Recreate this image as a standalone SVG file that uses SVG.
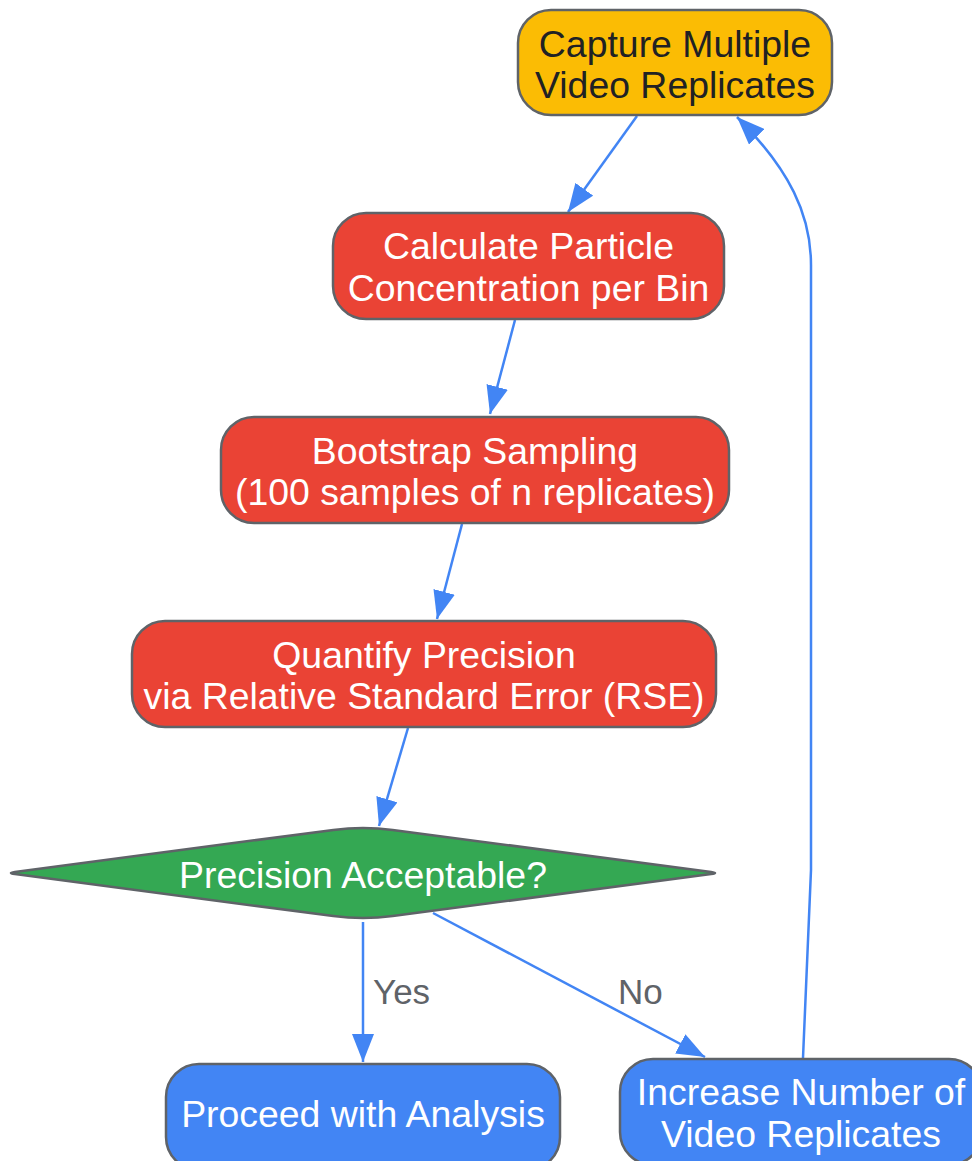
<svg xmlns="http://www.w3.org/2000/svg" width="972" height="1161" viewBox="0 0 972 1161">
  <defs>
    <marker id="arrow" viewBox="0 0 28 22" refX="28" refY="11" markerWidth="28" markerHeight="22" markerUnits="userSpaceOnUse" orient="auto">
      <path d="M0,0 L28,11 L0,22 Z" fill="#4285F4"/>
    </marker>
    <style>
      .node { stroke: #5f6368; stroke-width: 2.5; }
      .yellow { fill: #FBBC04; }
      .red { fill: #EA4335; }
      .green { fill: #34A853; }
      .blue { fill: #4285F4; }
      .label { font-family: "Liberation Sans", Arial, sans-serif; font-size: 37.4px; text-anchor: middle; fill: #ffffff; }
      .dark { fill: #202124; }
      .edge { fill: none; stroke: #4285F4; stroke-width: 2.5; marker-end: url(#arrow); }
      .elabel { font-family: "Liberation Sans", Arial, sans-serif; font-size: 35px; fill: #5f6368; }
    </style>
  </defs>

  <g id="connectors">
    <path class="edge" d="M637,116 L568,212"/>
    <path class="edge" d="M515,320 L490,414"/>
    <path class="edge" d="M462,524 L437,619"/>
    <path class="edge" d="M408,728 L379,826"/>
    <path class="edge" d="M363,922 L363,1062"/>
    <path class="edge" d="M433,913 L705,1057"/>
    <path class="edge" d="M803,1058 L811,870 L811,265 C811,215 790,170 737,117"/>
    <text class="elabel" x="373" y="1004">Yes</text>
    <text class="elabel" x="618" y="1004">No</text>
  </g>

  <g id="capture">
    <rect class="node yellow" x="518" y="10" width="314" height="105" rx="33" ry="33"/>
    <text class="label dark" x="675" y="57">Capture Multiple</text>
    <text class="label dark" x="675" y="98">Video Replicates</text>
  </g>

  <g id="calculate">
    <rect class="node red" x="333" y="213" width="391" height="106" rx="33" ry="33"/>
    <text class="label" x="528.5" y="259">Calculate Particle</text>
    <text class="label" x="528.5" y="301">Concentration per Bin</text>
  </g>

  <g id="bootstrap">
    <rect class="node red" x="221" y="417" width="508" height="106" rx="33" ry="33"/>
    <text class="label" x="475" y="464">Bootstrap Sampling</text>
    <text class="label" x="475" y="505">(100 samples of n replicates)</text>
  </g>

  <g id="quantify">
    <rect class="node red" x="132" y="621" width="584" height="106" rx="33" ry="33"/>
    <text class="label" x="424" y="668">Quantify Precision</text>
    <text class="label" x="424" y="709">via Relative Standard Error (RSE)</text>
  </g>

  <g id="decision">
    <path class="node green" d="M14.9,871.95 L333.3,829.9 Q363,826 392.7,829.9 L711.1,871.95 Q719,873 711.1,874.05 L392.7,916.1 Q363,920 333.3,916.1 L14.9,874.05 Q7,873 14.9,871.95 Z"/>
    <text class="label" x="363" y="888">Precision Acceptable?</text>
  </g>

  <g id="proceed">
    <rect class="node blue" x="166" y="1064" width="394" height="106" rx="33" ry="33"/>
    <text class="label" x="363" y="1127">Proceed with Analysis</text>
  </g>

  <g id="increase">
    <rect class="node blue" x="620" y="1059" width="362" height="106" rx="33" ry="33"/>
    <text class="label" x="801" y="1105">Increase Number of</text>
    <text class="label" x="801" y="1147">Video Replicates</text>
  </g>
</svg>
